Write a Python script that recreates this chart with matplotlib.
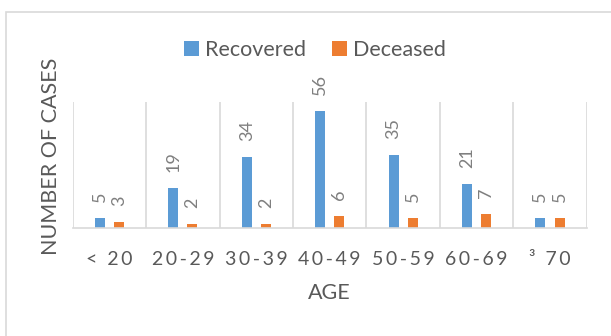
import matplotlib.pyplot as plt
import matplotlib.patches as mpatches
import numpy as np

plt.rcParams['font.family'] = ['Lato', 'DejaVu Sans']

# case counts by age group
age_groups = ["< 20", "20-29", "30-39", "40-49", "50-59", "60-69", "\u00b3 70"]
recovered = [5, 19, 34, 56, 35, 21, 5]
deceased = [3, 2, 2, 6, 5, 7, 5]

BLUE = "#5B9BD5"
ORANGE = "#ED7D31"
GRID = "#D9D9D9"
TEXT = "#595959"

W, H = 611, 336
fig = plt.figure(figsize=(W / 100, H / 100), dpi=100)


def fx(px):
    return px / W


def fy(py):
    return 1 - py / H


# outer chart frame (runs off the right and bottom edges)
fig.patches.append(mpatches.Rectangle((fx(5.5), fy(400)), fx(700), fy(11.5) - fy(400),
                                      transform=fig.transFigure, fill=False,
                                      edgecolor=GRID, linewidth=1.2))

left, right, top, bottom = 72.7, 586.7, 102.3, 228.3
ax = fig.add_axes([fx(left), fy(bottom), fx(right) - fx(left), fy(top) - fy(bottom)])

x = np.arange(len(age_groups))
bw = 0.136
off = 0.13
b1 = ax.bar(x - off, recovered, bw, color=BLUE, label="Recovered")
b2 = ax.bar(x + off, deceased, bw, color=ORANGE, label="Deceased")

for bars, vals in ((b1, recovered), (b2, deceased)):
    for rect, v in zip(bars, vals):
        ax.annotate(str(v), (rect.get_x() + rect.get_width() / 2, v),
                    xytext=(0, 16), textcoords="offset pixels",
                    rotation=90, ha="center", va="bottom",
                    fontsize=13, color="#7F7F7F", annotation_clip=False)

ax.set_xlim(-0.5, len(age_groups) - 0.5)
ax.set_ylim(0, 60)

# category separators
for b in np.arange(-0.5, len(age_groups), 1.0):
    ax.axvline(b, color=GRID, linewidth=1.2, zorder=0)

for s in ("top", "right", "left"):
    ax.spines[s].set_visible(False)
ax.spines["bottom"].set_color(GRID)
ax.spines["bottom"].set_linewidth(1.2)
ax.set_yticks([])
ax.set_xticks(x)
# spaced-out tick text
ax.set_xticklabels(["\u2009".join(lbl) for lbl in age_groups])
ax.tick_params(axis="x", length=0, pad=16, labelsize=14, labelcolor=TEXT)

fig.text(fx(329.5), fy(293.3), "AGE", ha="center", va="center", fontsize=15.5, color=TEXT)
fig.text(fx(50.8), fy(156.5), "NUMBER OF CASES", ha="center", va="center",
         rotation=90, fontsize=15.5, color=TEXT)

fig.legend(handles=[b1, b2], loc="center", bbox_to_anchor=(fx(315), fy(49.7)),
           ncol=2, frameon=False, fontsize=15.5, labelcolor=TEXT,
           handlelength=0.68, handleheight=0.68, handletextpad=0.3,
           columnspacing=1.2, borderpad=0)

fig.savefig("out.png", dpi=100)
